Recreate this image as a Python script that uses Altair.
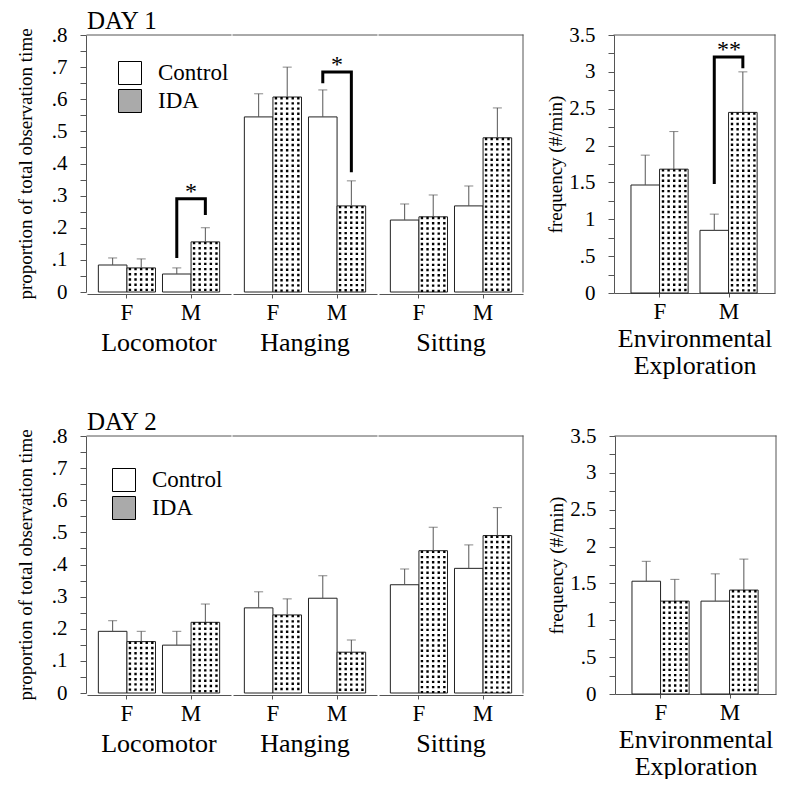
import altair as alt
import pandas as pd

SERIF = "Liberation Serif"

# ---------------- data ----------------
behaviors = ["Locomotor", "Hanging", "Sitting"]
sexes = ["F", "M"]
groups = ["Control", "IDA"]

# order: behavior -> sex -> group
day1_mean = [0.084, 0.075, 0.056, 0.156, 0.545, 0.607, 0.545, 0.268, 0.224, 0.234, 0.268, 0.480]
day1_err = [0.106, 0.103, 0.075, 0.200, 0.617, 0.700, 0.629, 0.346, 0.274, 0.302, 0.330, 0.573]
day2_mean = [0.192, 0.160, 0.149, 0.220, 0.265, 0.243, 0.295, 0.127, 0.337, 0.443, 0.388, 0.490]
day2_err = [0.225, 0.192, 0.192, 0.277, 0.315, 0.293, 0.365, 0.165, 0.386, 0.516, 0.461, 0.577]

# Environmental exploration: sex -> group
day1_env_mean = [1.465, 1.68, 0.85, 2.45]
day1_env_err = [1.87, 2.19, 1.07, 3.00]
day2_env_mean = [1.53, 1.26, 1.26, 1.41]
day2_env_err = [1.80, 1.555, 1.63, 1.83]

# significance brackets (Day 1)
brk1_behavior = ["Locomotor", "Hanging"]
brk1_sex = ["M", "M"]
brk1_ctrl_low = [0.106, 0.650]
brk1_top = [0.290, 0.685]
brk1_ida_low = [0.240, 0.373]
brk1_label = ["*", "*"]

brk_env1_sex = ["M"]
brk_env1_ctrl_low = [1.48]
brk_env1_top = [3.20]
brk_env1_ida_low = [3.05]
brk_env1_label = ["**"]


def bar_rows(means, errs, cats):
    rows = []
    i = 0
    for b in cats:
        for s in sexes:
            for g in groups:
                rows.append(dict(kind="bar", behavior=b, sex=s, group=g,
                                 mean=means[i], err=errs[i]))
                i += 1
    return rows


def bracket_rows(bhv, sx, lo_c, top, lo_i, lab):
    rows = []
    for k in range(len(sx)):
        pts = [("Control", lo_c[k]), ("Control", top[k]), ("IDA", top[k]), ("IDA", lo_i[k])]
        for o, (g, v) in enumerate(pts):
            rows.append(dict(kind="bracket", behavior=bhv[k], sex=sx[k], group=g,
                             val=v, order=o, bid=f"b{k}"))
        rows.append(dict(kind="star", behavior=bhv[k], sex=sx[k], group="Control",
                         val=top[k], label=lab[k]))
    return rows


def fill_df(rows):
    df = pd.DataFrame(rows)
    for c in ["mean", "err", "val", "order"]:
        if c not in df:
            df[c] = 0.0
        df[c] = df[c].fillna(0.0)
    for c in ["bid", "label"]:
        if c not in df:
            df[c] = ""
        df[c] = df[c].fillna("")
    return df


df_day1 = fill_df(bar_rows(day1_mean, day1_err, behaviors) +
                  bracket_rows(brk1_behavior, brk1_sex, brk1_ctrl_low, brk1_top, brk1_ida_low, brk1_label))
df_day2 = fill_df(bar_rows(day2_mean, day2_err, behaviors))
df_env1 = fill_df(bar_rows(day1_env_mean, day1_env_err, ["Env"]) +
                  bracket_rows(["Env"], brk_env1_sex, brk_env1_ctrl_low, brk_env1_top,
                               brk_env1_ida_low, brk_env1_label))
df_env2 = fill_df(bar_rows(day2_env_mean, day2_env_err, ["Env"]))

LINE = "#555"
SWATCH_GRAY = "#aaaaaa"
DOT_COLUMNS = [3.0, 8.6, 14.2, 19.8, 25.4]   # texture offsets (px) inside an IDA bar


def build_panel(df, x_scale, x_axis, y_domain, y_step, y_title, title_pad,
                label_expr, border_filter, legend=None):
    y_vals = []
    k = 0
    while k * y_step <= y_domain[1] + 1e-9:
        y_vals.append(round(k * y_step, 3))
        k += 1
    y_scale = alt.Scale(domain=y_domain, nice=False, zero=True)
    y_axis = alt.Axis(title=y_title, values=y_vals, labelExpr=label_expr,
                      tickSize=6, titlePadding=title_pad, labelPadding=13, grid=False,
                      labelOverlap=False, labelFlush=False, titleFontSize=19,
                      labelFontSize=21, labelFont=SERIF, titleFont=SERIF,
                      titleFontWeight="normal")

    def Y(field):
        return alt.Y(field, type="quantitative", scale=y_scale, axis=y_axis)

    X = alt.X("sex:N", scale=x_scale, axis=x_axis)
    XO = alt.XOffset("group:N", scale=alt.Scale(domain=groups, paddingInner=0, paddingOuter=0))
    base = alt.Chart()
    bars_src = base.transform_filter("datum.kind == 'bar'")
    layers = []
    if legend is not None:
        layers.append(
            bars_src.transform_calculate(half="datum.mean / 2")
            .mark_point(filled=True, size=1, opacity=1)
            .encode(x=X, xOffset=XO, y=Y("half"),
                    fill=alt.Fill("group:N",
                                  scale=alt.Scale(domain=groups, range=["white", SWATCH_GRAY]),
                                  legend=legend))
        )
    layers.append(
        bars_src.mark_bar(fill="white", stroke="#222", strokeWidth=1)
        .encode(x=X, xOffset=XO, y=Y("mean"))
    )
    for off in DOT_COLUMNS:
        layers.append(
            bars_src.transform_filter("datum.group == 'IDA'")
            .mark_rule(color="black", strokeWidth=2.4, strokeDash=[2.4, 2.8], xOffset=off)
            .encode(x=X, y=Y("mean"), y2=alt.value("height"))
        )
    layers += [
        bars_src.mark_rule(color=LINE, strokeWidth=1)
        .encode(x=X, xOffset=XO, y=Y("mean"), y2="err:Q"),
        bars_src.mark_tick(color=LINE, size=9, thickness=1)
        .encode(x=X, xOffset=XO, y=Y("err")),
    ]
    if (df["kind"] == "bracket").any():
        layers.append(
            base.transform_filter("datum.kind == 'bracket'")
            .mark_line(color="black", strokeWidth=3, strokeJoin="miter")
            .encode(x=X, xOffset=XO, y=Y("val"), detail="bid:N", order="order:Q")
        )
        layers.append(
            base.transform_filter("datum.kind == 'star'")
            .mark_text(font=SERIF, fontSize=24, baseline="alphabetic", align="center", color="black")
            .encode(x=X, y=Y("val"), text="label:N")
        )
    layers.append(
        base.transform_filter("datum.kind == 'bar' && datum.sex == 'F' && datum.group == 'Control'")
        .mark_rule(color=LINE, strokeWidth=1, strokeCap="square")
        .encode(y=alt.YDatum(y_domain[1], type="quantitative", scale=y_scale, axis=y_axis))
    )
    layers.append(
        base.transform_filter(border_filter)
        .mark_rule(color=LINE, strokeWidth=1, strokeCap="square")
        .encode(x=alt.value("width"), y=alt.value(0), y2=alt.value("height"))
    )
    return alt.layer(*layers, data=df)


left_label = ("abs(datum.value*10 - round(datum.value*10)) > 0.01 ? '' : "
              "(datum.value == 0 ? '0' : substring(format(datum.value, '.1f'), 1))")
right_label = ("abs(datum.value*2 - round(datum.value*2)) > 0.01 ? '' : "
               "(datum.value == 0 ? '0' : (datum.value < 1 ? "
               "substring(format(datum.value, '.1f'), 1) : format(datum.value, '~g')))")

left_x_scale = alt.Scale(domain=sexes, paddingInner=0.109, paddingOuter=0.177)
left_x_axis = alt.Axis(title=None, labelAngle=0, labelFontSize=23, labelPadding=3, tickSize=4,
                       labelFont=SERIF)
right_x_scale = alt.Scale(domain=sexes, paddingInner=0.159, paddingOuter=0.246)
right_x_axis = alt.Axis(title=["Environmental", "Exploration"], labelAngle=0, labelFontSize=23,
                        labelPadding=3, tickSize=4, titleFontSize=26, titleLineHeight=27,
                        titlePadding=2, labelFont=SERIF, titleFont=SERIF,
                        titleFontWeight="normal")


def make_legend(lx, ly):
    return alt.Legend(title=None, orient="none", legendX=lx, legendY=ly, symbolSize=529,
                      symbolType="square", symbolStrokeColor="black", symbolStrokeWidth=1,
                      symbolOpacity=1, labelFont=SERIF, labelFontSize=23, labelOffset=16,
                      rowPadding=0, padding=0)


def left_panel(df, title, title_pad, lx, ly):
    layer = build_panel(df, left_x_scale, left_x_axis, [0, 0.8], 0.05,
                        "proportion of total observation time", title_pad, left_label,
                        "datum.kind == 'bar' && datum.behavior == 'Sitting' && datum.sex == 'F' && datum.group == 'Control'",
                        legend=make_legend(lx, ly))
    layer = layer.properties(width=144, height=257)
    return layer.facet(
        column=alt.Column("behavior:N", sort=behaviors, title=None,
                          header=alt.Header(labelOrient="bottom", labelFont=SERIF,
                                            labelFontSize=26, labelPadding=6)),
        spacing=0,
    ).properties(title=alt.TitleParams(title, anchor="start", frame="group", offset=-10,
                                       fontSize=25, font=SERIF, fontWeight="normal"))


def right_panel(df):
    layer = build_panel(df, right_x_scale, right_x_axis, [0, 3.5], 0.25,
                        "frequency (#/min)", 3, right_label,
                        "datum.kind == 'bar' && datum.sex == 'F' && datum.group == 'Control'",
                        legend=None)
    return layer.properties(width=161, height=258)


row1 = alt.hconcat(left_panel(df_day1, "DAY 1", 16, 31, 26), right_panel(df_env1), spacing=22)
row2 = alt.hconcat(left_panel(df_day2, "DAY 2", 16, 25, 32), right_panel(df_env2), spacing=23)

chart = alt.vconcat(row1, row2, spacing=32).resolve_scale(
    fill="independent"
).resolve_legend(
    fill="independent"
).properties(
    padding={"left": 8, "top": 1, "right": 0, "bottom": 0}
).configure_view(stroke=None).configure_axis(
    labelFont=SERIF, titleFont=SERIF, titleFontWeight="normal", labelColor="black",
    titleColor="black", domainColor=LINE, tickColor=LINE, grid=False
).configure_header(labelFont=SERIF).configure_legend(labelFont=SERIF).configure_title(font=SERIF)

chart.save("out.html", embed_options={"renderer": "svg", "actions": False})
